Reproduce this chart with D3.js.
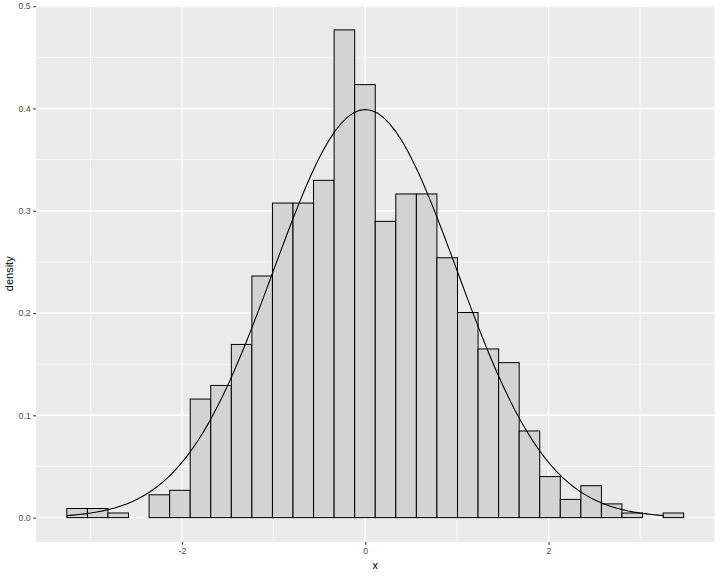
<!DOCTYPE html>
<html><head><meta charset="utf-8">
<script src="https://cdn.jsdelivr.net/npm/d3@7"></script>
<style>body{margin:0;background:#fff}svg{display:block}</style>
</head><body>
<svg id="c" width="720" height="576"></svg>
<script>
// histogram bins (density), 30 bins
const binStart = -3.257;
const binWidth = 0.2244;
const densities = [0.0089,0.0089,0.0045,0,0.0223,0.0267,0.1159,0.1292,0.1693,0.2362,
  0.3075,0.3075,0.3297,0.4768,0.4233,0.2896,0.3164,0.3164,0.2540,0.2005,
  0.1649,0.1515,0.0847,0.0401,0.0178,0.0312,0.0134,0.0045,0,0.0045];
const curveRange = [-3.257, 3.26];
const xTicks = [-2, 0, 2];
const xMinor = [-3, -1, 1, 3];
const yTicks = [0, 0.1, 0.2, 0.3, 0.4, 0.5];
const yMinor = [0.05, 0.15, 0.25, 0.35, 0.45];
const xLabel = "x", yLabel = "density";

const W = 720, H = 576;
const panel = {l: 36, r: 714.5, t: 5.5, b: 542};
const svg = d3.select("#c");

const bins = densities.map((d, i) => ({x0: binStart + i * binWidth, x1: binStart + (i + 1) * binWidth, d}));
const xMin = bins[0].x0, xMax = bins[bins.length - 1].x1;
const xPad = (xMax - xMin) * 0.05;
const yMax = d3.max(densities);
const yPad = yMax * 0.05;
const x = d3.scaleLinear().domain([xMin - xPad, xMax + xPad]).range([panel.l, panel.r]);
const y = d3.scaleLinear().domain([0 - yPad, yMax + yPad]).range([panel.b, panel.t]);

svg.append("rect").attr("x", panel.l).attr("y", panel.t)
  .attr("width", panel.r - panel.l).attr("height", panel.b - panel.t).attr("fill", "#EBEBEB");

const g = svg.append("g");
g.selectAll(".vmin").data(xMinor).join("line")
  .attr("x1", d => x(d)).attr("x2", d => x(d)).attr("y1", panel.t).attr("y2", panel.b)
  .attr("stroke", "#fff").attr("stroke-width", 0.7);
g.selectAll(".hmin").data(yMinor).join("line")
  .attr("y1", d => y(d)).attr("y2", d => y(d)).attr("x1", panel.l).attr("x2", panel.r)
  .attr("stroke", "#fff").attr("stroke-width", 0.7);
g.selectAll(".vmaj").data(xTicks).join("line")
  .attr("x1", d => x(d)).attr("x2", d => x(d)).attr("y1", panel.t).attr("y2", panel.b)
  .attr("stroke", "#fff").attr("stroke-width", 1.4);
g.selectAll(".hmaj").data(yTicks).join("line")
  .attr("y1", d => y(d)).attr("y2", d => y(d)).attr("x1", panel.l).attr("x2", panel.r)
  .attr("stroke", "#fff").attr("stroke-width", 1.4);

svg.append("g").selectAll("rect").data(bins).join("rect")
  .attr("x", d => x(d.x0)).attr("width", d => x(d.x1) - x(d.x0))
  .attr("y", d => y(d.d)).attr("height", d => y(0) - y(d.d))
  .attr("fill", "#D3D3D3").attr("stroke", "#000").attr("stroke-width", 1);

const pts = d3.range(101).map(i => {
  const xv = curveRange[0] + (curveRange[1] - curveRange[0]) * i / 100;
  return [xv, Math.exp(-xv * xv / 2) / Math.sqrt(2 * Math.PI)];
});
svg.append("path").datum(pts)
  .attr("d", d3.line().x(d => x(d[0])).y(d => y(d[1])))
  .attr("fill", "none").attr("stroke", "#000").attr("stroke-width", 1.1);

// axes
const font = "Liberation Sans, Arial, Helvetica, sans-serif";
const xAxis = svg.append("g").attr("transform", `translate(0,${panel.b})`)
  .call(d3.axisBottom(x).tickValues(xTicks).tickSize(2.75).tickPadding(3.5).tickFormat(d => String(d)));
xAxis.select(".domain").remove();
xAxis.selectAll("line").attr("stroke", "#333").attr("stroke-width", 1.1);
xAxis.selectAll("text").attr("fill", "#4D4D4D").style("font-family", font).style("font-size", "8.8px");

const yAxis = svg.append("g").attr("transform", `translate(${panel.l},0)`)
  .call(d3.axisLeft(y).tickValues(yTicks).tickSize(2.75).tickPadding(2.5).tickFormat(d3.format(".1f")));
yAxis.select(".domain").remove();
yAxis.selectAll("line").attr("stroke", "#333").attr("stroke-width", 1.1);
yAxis.selectAll("text").attr("fill", "#4D4D4D").style("font-family", font).style("font-size", "8.8px");

svg.append("text").attr("x", (panel.l + panel.r) / 2).attr("y", 569)
  .attr("text-anchor", "middle").style("font-family", font).style("font-size", "11px").attr("fill", "#000")
  .text(xLabel);
svg.append("text").attr("transform", `translate(13,${(panel.t + panel.b) / 2}) rotate(-90)`)
  .attr("text-anchor", "middle").style("font-family", font).style("font-size", "11px").attr("fill", "#000")
  .text(yLabel);
</script>
</body></html>
